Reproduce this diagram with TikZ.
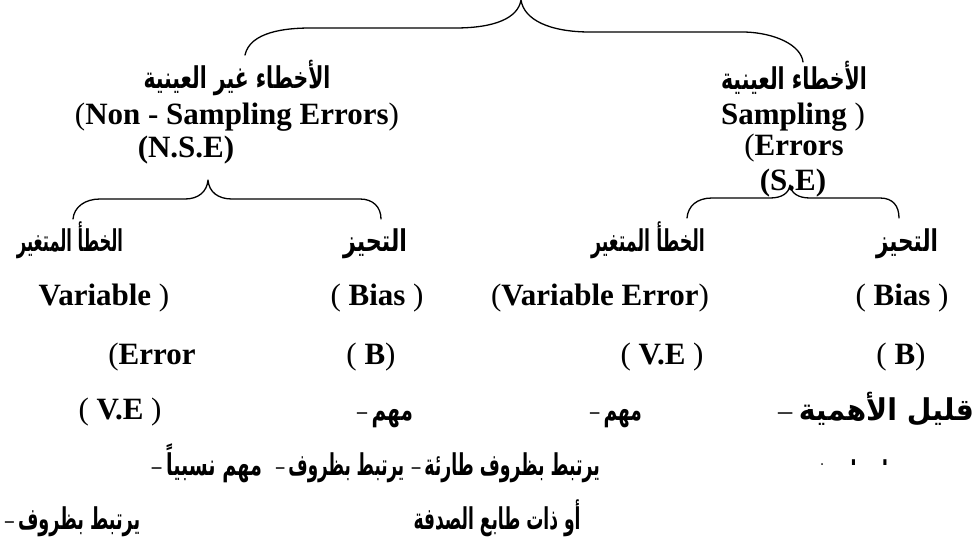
\documentclass[tikz,border=0pt]{standalone}
\usepackage{fontspec}
\usepackage{graphicx}
\setmainfont{Liberation Serif}
\newfontfamily\arabicfont[Script=Arabic]{DejaVu Sans}
\TeXXeTstate=1
\newcommand{\arr}[1]{\mbox{\arabicfont\bfseries\beginR #1\endR}}
\newcommand{\ard}[1]{\mbox{\mdseries–}\hspace{7pt}\arr{#1}}
\newcommand{\arw}[2]{\resizebox{#1pt}{\height}{#2}}
\newcommand{\lp}{{\mdseries(}}
\newcommand{\rp}{{\mdseries)}}
\begin{document}
\begin{tikzpicture}[x=1pt,y=-1pt,
  en/.style={font=\fontsize{31}{34}\selectfont\bfseries, inner sep=0pt, text height=21pt, text depth=6pt},
  arb/.style={font=\fontsize{30}{34}\selectfont, inner sep=0pt, text height=26pt, text depth=9pt},
  brace/.style={line width=1.3pt, line cap=round, line join=round}]
\useasboundingbox (0,0) rectangle (978,555);

% ---- top level texts
\node[arb] (nsear) at (237,80) {\arw{187}{\arr{الأخطاء غير العينية}}};
\node[en]  (nseen) at (237,117) {\lp Non - Sampling Errors\rp};
\node[en]  (nseab) at (186,150) {(N.S.E)};
\node[arb] (sear)  at (794,81) {\arw{146}{\arr{الأخطاء العينية}}};
\node[en]  (seen1) at (793,117) {Sampling \rp};
\node[en]  (seen2) at (794,148) {\lp Errors};
\node[en]  (seab)  at (793,183) {(S.E)};

% ---- row 1
\node[arb] (c1a) at (70,243)  {\arw{106}{\arr{الخطأ المتغير}}};
\node[arb] (c2a) at (375,243) {\arw{64}{\arr{التحيز}}};
\node[arb] (c3a) at (648,243) {\arw{114}{\arr{الخطأ المتغير}}};
\node[arb] (c4a) at (907,243) {\arw{62}{\arr{التحيز}}};
% ---- row 2
\node[en] (c1b) at (104,298) {Variable \rp};
\node[en] (c2b) at (377,298) {\lp{} Bias \rp};
\node[en] (c3b) at (600,298) {\lp Variable Error\rp};
\node[en] (c4b) at (902,298) {\lp{} Bias \rp};
% ---- row 3
\node[en] (c1c) at (152,357) {\lp Error};
\node[en] (c2c) at (371,357) {\lp{} B\rp};
\node[en] (c3c) at (662,357) {\lp{} V.E \rp};
\node[en] (c4c) at (901,357) {\lp{} B\rp};
% ---- row 4
\node[en]  (c1d) at (120,412) {\lp{} V.E \rp};
\node[arb] (c2d) at (385,412) {\arw{56}{\ard{مهم}}};
\node[arb] (c3d) at (616,412) {\arw{52}{\ard{مهم}}};
\node[arb] (c4d) at (876,412) {\arw{196}{\ard{قليل الأهمية}}};
% ---- row 5
\node[arb] (c1e) at (207,467) {\arw{110}{\ard{مهم نسبياً}}};
\node[arb, anchor=west] (c2e) at (276,467) {\arw{128}{\ard{يرتبط بظروف}}};
\node[arb, anchor=east] (c3e) at (600,467) {\arw{188}{\ard{يرتبط بظروف طارئة}}};
\begin{scope}
  \clip (780,455) rectangle (978,464);
  \node[arb] (c4e) at (862,474) {\arw{135}{\ard{يرتبط بظروف}}};
\end{scope}
% ---- row 6
\node[arb, anchor=west] (c1f) at (5,521) {\arw{135}{\ard{يرتبط بظروف}}};
\node[arb] (c3f) at (497,521) {\arw{167}{\arr{أو ذات طابع الصدفة}}};

% ---- braces
\coordinate (t0) at (521,0);
\draw[brace] (245,55) .. controls (250,32) and (285,28) .. (310,28)
  -- (455,28) .. controls (495,28) and (518,18) .. (t0)
  .. controls (524,20) and (550,32) .. (590,32)
  -- (745,32) .. controls (775,33) and (801,45) .. (803,62);
\draw[brace] (73,219) .. controls (74,207) and (85,199) .. (100,199)
  -- (185,199) .. controls (198,199) and (207,192) .. (208,180)
  .. controls (209,192) and (218,199) .. (232,199)
  -- (360,199) .. controls (373,199) and (381,207) .. (381,219);
\draw[brace] (687,218) .. controls (688,206) and (697,198) .. (712,198)
  -- (770,198) .. controls (782,198) and (789,193) .. (790,185)
  .. controls (791,193) and (798,198) .. (810,198)
  -- (880,198) .. controls (893,198) and (899,206) .. (899,218);
\end{tikzpicture}
\end{document}
